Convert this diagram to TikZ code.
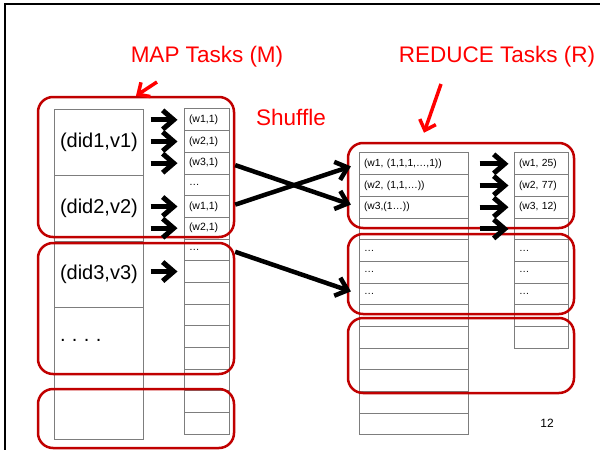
\documentclass[tikz,border=0pt]{standalone}
\usepackage{fontspec}
\setmainfont{Liberation Sans}
\usepackage{xcolor}
\usetikzlibrary{arrows.meta, positioning, calc}
\definecolor{boxred}{RGB}{192,0,0}
\definecolor{cellgray}{RGB}{125,125,125}

\begin{document}
\begin{tikzpicture}[x=1pt, y=-1pt,
    doc/.style={draw=cellgray, line width=1pt, minimum width=89pt, minimum height=66pt, inner xsep=6pt, text width=77pt, align=left, font=\fontsize{20}{20}\selectfont},
    pair/.style={draw=cellgray, line width=1pt, minimum height=21.7pt, inner ysep=0pt, inner xsep=5pt, align=left, font=\fontsize{10.5}{11}\selectfont},
    fat/.style={line width=5pt, -{Straight Barb[length=11pt, width=19pt]}},
    shuffle/.style={line width=4.5pt, -{Straight Barb[length=11pt, width=19pt]}, shorten <=6pt, shorten >=8pt},
    task/.style={draw=boxred, line width=2.5pt, rounded corners=15pt, inner sep=0pt, minimum width=#1},
    title/.style={text=red, font=\fontsize{22.5}{22.5}\selectfont},
    redarrow/.style={draw=red, line width=3.5pt, -{Straight Barb[length=9pt, width=17pt]}}]

    \useasboundingbox (0,0) rectangle (600,450);
    \draw[line width=2.5pt] (5,450) -- (5,4) -- (600,4);

    % input documents
    \foreach \lab [count=\i] in {{(did1,v1)},{(did2,v2)},{(did3,v3)},{.\hspace{6.4pt}.\hspace{6.4pt}.\hspace{6.4pt}.},{}}
        \node[doc] (d\i) at (98.5, 76+66*\i) {\lab};

    % map output
    \foreach \lab [count=\i] in {{(w1,1)},{(w2,1)},{(w3,1)},{…},{(w1,1)},{(w2,1)},{…},{},{},{},{},{},{},{},{}}
        \node[pair, text width=35pt] (w\i) at (206.5, 98.17+21.67*\i) {\lab};

    % reduce input
    \foreach \lab [count=\i] in {{(w1, (1,1,1,…,1))},{(w2, (1,1,…))},{(w3,(1…))},{},{…},{…},{…},{},{},{},{},{},{}}
        \node[pair, text width=99pt, font=\fontsize{10.3}{11}\selectfont] (r\i) at (413.5, 142.15+21.69*\i) {\lab};

    % reduce output
    \foreach \lab [count=\i] in {{(w1, 25)},{(w2, 77)},{(w3, 12)},{},{…},{…},{…},{},{}}
        \node[pair, text width=44pt, font=\fontsize{10.3}{11}\selectfont] (o\i) at (541, 142.15+21.69*\i) {\lab};

    % tasks
    \node[task=196pt, minimum height=140pt] (map1) at (136,167) {};
    \node[task=196pt, minimum height=131pt] (map2) at (136,308.5) {};
    \node[task=196pt, minimum height=59pt] (map3) at (136,418.5) {};
    \node[task=226pt, minimum height=85pt] (red1) at (461,185.5) {};
    \node[task=226pt, minimum height=80pt] (red2) at (461,274) {};
    \node[task=226pt, minimum height=75pt] (red3) at (461,355.5) {};

    \foreach \s/\t in {d1/w1, d1/w2, d1/w3, d2/w5, d2/w6, d3/w8}
        \draw[fat, shorten <=7pt, shorten >=6pt] (\t.west -| \s.east) -- (\t.west);
    \foreach \i in {1,...,4}
        \draw[fat, shorten <=11pt, shorten >=5pt] (r\i.east) -- (o\i.west);

    \draw[shuffle] (w3.east) -- (r3.west);
    \draw[shuffle] (w5.east) -- (r1.west);
    \draw[shuffle] (w7.east) -- (r7.west);

    \node[title] (maptitle) at (207,57) {MAP Tasks (M)};
    \node[title] (redtitle) at (497,57) {REDUCE Tasks (R)};
    \node[title] (shufflelabel) at (291,117) {Shuffle};

    \coordinate (maptail) at (157,82);
    \coordinate (redtail) at (441,84);
    \draw[redarrow] (maptail) -- (map1.north);
    \draw[redarrow] (redtail) -- ([xshift=-37pt, yshift=9pt]red1.north);

    \node[font=\fontsize{12}{12}\selectfont] (pagenum) at (547,423) {12};
\end{tikzpicture}
\end{document}
